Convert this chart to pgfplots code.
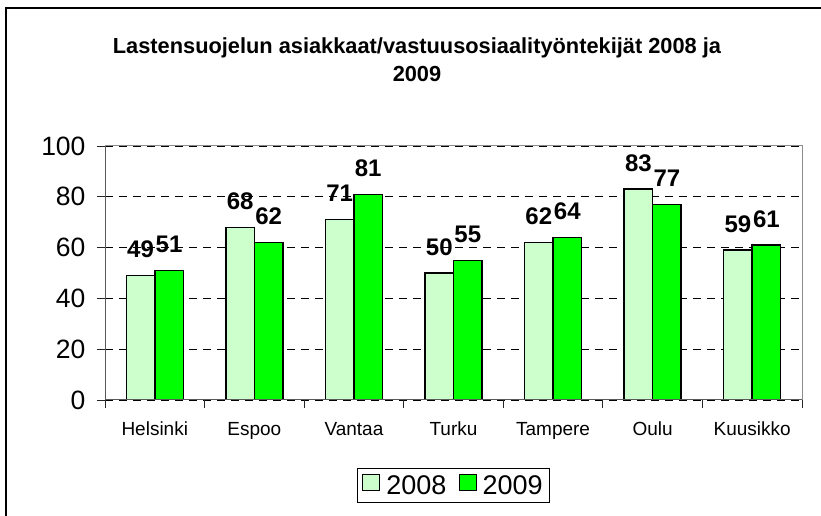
\documentclass[border=0pt]{standalone}
\usepackage{pgfplots}
\pgfplotsset{compat=1.18}
\usepackage{fontspec}
\setmainfont{Liberation Sans}
\definecolor{lg}{RGB}{204,255,204}
\definecolor{dg}{RGB}{0,255,0}
\begin{document}
\begin{tikzpicture}[x=1pt,y=1pt]
\useasboundingbox (0,0) rectangle (821,516);
\draw[line width=2.2pt, black] (6,0) -- (6,508) -- (821,508);
\node[anchor=base, font=\fontsize{21.8}{26}\selectfont\bfseries] at (417,462) {Lastensuojelun asiakkaat/vastuusosiaalityöntekijät 2008 ja};
\node[anchor=base, font=\fontsize{21.8}{26}\selectfont\bfseries] at (417,434) {2009};
\begin{axis}[at={(105pt,116pt)}, anchor=south west, scale only axis, width=697pt, height=254pt,
 xmin=-0.5, xmax=6.5, ymin=0, ymax=100,
 ytick={0,20,...,100},
 xtick={-0.5,0.5,...,6.5},
 x tick label as interval,
 xticklabels={Helsinki,Espoo,Vantaa,Turku,Tampere,Oulu,Kuusikko},
 tick align=outside, major tick length=8pt,
 xtick pos=lower, ytick pos=left,
 tick style={black!85, line width=0.8pt},
 axis line style={draw=gray!90, line width=1pt},
 ymajorgrids, grid style={black, line width=0.8pt, dash pattern=on 8pt off 6pt},
 ybar=0pt, bar width=28.5pt,
 nodes near coords,
 every node near coord/.append style={font=\fontsize{24}{28}\selectfont\bfseries, text=black, anchor=south, inner sep=0pt, yshift=17pt},
 yticklabel style={font=\fontsize{26.5}{30}\selectfont, xshift=-8pt},
 /pgf/number format/assume math mode=true,
 xticklabel style={font=\fontsize{19}{22}\selectfont, text height=14pt, text depth=4pt, yshift=-10pt},
 legend style={at={(0.5,-0.3366)}, anchor=center, legend columns=2, draw=black, line width=1pt, font=\fontsize{27}{32}\selectfont, inner sep=5pt,
   /tikz/every odd column/.append style={column sep=4pt},
   /tikz/every even column/.append style={column sep=10pt}},
 legend image code/.code={\draw[#1,draw=black,line width=1.2pt] (0pt,-5pt) rectangle (17pt,11pt);},
]
\addplot[fill=lg, draw=black, line width=1.5pt] coordinates {(0,49) (1,68) (2,71) (3,50) (4,62) (5,83) (6,59)};
\addplot[fill=dg, draw=black, line width=1.5pt] coordinates {(0,51) (1,62) (2,81) (3,55) (4,64) (5,77) (6,61)};
\legend{2008,2009}
\draw[gray!90, line width=1pt] (rel axis cs:0,1) -- (rel axis cs:1,1) -- (rel axis cs:1,0);
\draw[black!65, line width=1pt] (rel axis cs:0,1) -- (rel axis cs:0,0) -- (rel axis cs:1,0);
\end{axis}
\end{tikzpicture}
\end{document}
